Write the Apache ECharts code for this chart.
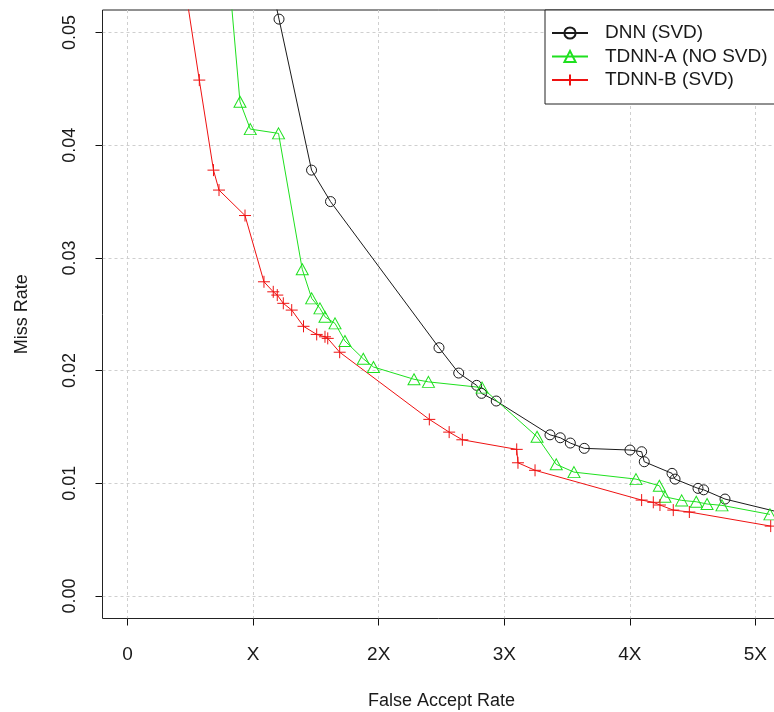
<!DOCTYPE html>
<html><head><meta charset="utf-8">
<script src="https://cdn.jsdelivr.net/npm/echarts@6/dist/echarts.min.js"></script>
<style>html,body{margin:0;padding:0;background:#fff}#c{width:774px;height:712px}</style>
</head><body><div id="c"></div>
<script>
// ---- data ----
const xTickValues = [0, 1, 2, 3, 4, 5];
const xTickLabels = ['0', 'X', '2X', '3X', '4X', '5X'];
const yTickValues = [0, 0.01, 0.02, 0.03, 0.04, 0.05];
const seriesNames = ['DNN (SVD)', 'TDNN-A (NO SVD)', 'TDNN-B (SVD)'];

const dnnX = [1.122, 1.206, 1.465, 1.616, 2.480, 2.637, 2.780, 2.819, 2.936, 3.364, 3.446, 3.526, 3.637, 4.001, 4.094, 4.115, 4.336, 4.360, 4.543, 4.588, 4.758, 5.300];
const dnnY = [0.0555, 0.05119, 0.03779, 0.0350, 0.02203, 0.01978, 0.01869, 0.01798, 0.01730, 0.01430, 0.01404, 0.01357, 0.01310, 0.01295, 0.01280, 0.01191, 0.01088, 0.01037, 0.00955, 0.00942, 0.00860, 0.00713];

const tdnnAX = [0.804, 0.895, 0.977, 1.202, 1.391, 1.466, 1.532, 1.572, 1.652, 1.731, 1.877, 1.958, 2.281, 2.396, 2.823, 3.261, 3.414, 3.555, 4.049, 4.235, 4.280, 4.413, 4.529, 4.615, 4.734, 5.116];
const tdnnAY = [0.0555, 0.04385, 0.04143, 0.04105, 0.02899, 0.02641, 0.02552, 0.02477, 0.02419, 0.02263, 0.02105, 0.02032, 0.01923, 0.01900, 0.01849, 0.01413, 0.01168, 0.01099, 0.01037, 0.00978, 0.00880, 0.00848, 0.00836, 0.00816, 0.00804, 0.00724];

const tdnnBX = [0.438, 0.571, 0.684, 0.728, 0.935, 1.086, 1.160, 1.192, 1.240, 1.307, 1.401, 1.506, 1.572, 1.594, 1.689, 2.403, 2.561, 2.666, 3.099, 3.109, 3.245, 4.094, 4.187, 4.240, 4.346, 4.474, 5.122];
const tdnnBY = [0.0555, 0.04578, 0.03779, 0.03602, 0.03376, 0.02788, 0.02699, 0.02670, 0.02597, 0.02537, 0.02393, 0.02321, 0.02300, 0.02286, 0.02163, 0.01567, 0.01454, 0.01386, 0.01301, 0.01182, 0.01115, 0.00851, 0.00831, 0.00807, 0.00762, 0.00745, 0.00620];

// ---- layout ----
const FONT = '"Liberation Sans", Arial, sans-serif';
const TXT = '#1a1a1a';
const XMIN = -0.2, XMAX = 5.2, YMIN = -0.002, YMAX = 0.052;
const BOX = {left: 102.5, top: 10, width: 678, height: 608.5};
const zip = (xs, ys) => xs.map((x, i) => [x, ys[i]]);
const near = (arr, v, eps) => arr.findIndex(t => Math.abs(t - v) < eps);

const chart = echarts.init(document.getElementById('c'), null, {renderer: 'canvas'});
const splitStyle = {show: true, showMinLine: false, showMaxLine: false, lineStyle: {color: '#cfcfcf', type: [3, 3], width: 1}};
const tickStyle = {show: true, inside: false, length: 7, lineStyle: {color: '#111', width: 1}};
const noLine = {show: false, onZero: false};

const option = {
  animation: false,
  backgroundColor: '#fff',
  grid: [
    Object.assign({show: true, borderColor: '#222', borderWidth: 1, backgroundColor: 'transparent',
                   outerBoundsMode: 'none', containLabel: false}, BOX),
    Object.assign({show: false, outerBoundsMode: 'none', containLabel: false}, BOX)
  ],
  xAxis: [
    {gridIndex: 0, type: 'value', min: XMIN, max: XMAX, splitNumber: 5,
     axisLine: noLine, axisTick: {show: false}, axisLabel: {show: false}, splitLine: splitStyle},
    {gridIndex: 1, type: 'value', min: XMIN, max: XMAX, splitNumber: 5, position: 'bottom',
     axisLine: noLine, splitLine: {show: false},
     axisTick: Object.assign({customValues: xTickValues}, tickStyle),
     axisLabel: {customValues: xTickValues, margin: 27, fontSize: 19, fontFamily: FONT, color: TXT,
                 showMinLabel: true, showMaxLabel: true,
                 formatter: v => { const k = near(xTickValues, v, 1e-6); return k >= 0 ? xTickLabels[k] : ''; }},
     name: 'False Accept Rate', nameLocation: 'middle', nameGap: 74,
     nameTextStyle: {fontSize: 18, fontFamily: FONT, color: TXT}}
  ],
  yAxis: [
    {gridIndex: 0, type: 'value', min: YMIN, max: YMAX, splitNumber: 5,
     axisLine: noLine, axisTick: {show: false}, axisLabel: {show: false}, splitLine: splitStyle},
    {gridIndex: 1, type: 'value', min: YMIN, max: YMAX, splitNumber: 5, position: 'left',
     axisLine: noLine, splitLine: {show: false},
     axisTick: Object.assign({customValues: yTickValues}, tickStyle),
     axisLabel: {customValues: yTickValues, margin: 23, rotate: 90, fontSize: 18, fontFamily: FONT, color: TXT,
                 showMinLabel: true, showMaxLabel: true,
                 formatter: v => { const k = near(yTickValues, v, 1e-9); return k >= 0 ? yTickValues[k].toFixed(2) : ''; }},
     name: 'Miss Rate', nameLocation: 'middle', nameGap: 71, nameRotate: 90,
     nameTextStyle: {fontSize: 18, fontFamily: FONT, color: TXT}}
  ],
  legend: {
    orient: 'vertical', left: 545, top: 10, padding: [13, 40, 14, 6],
    itemGap: 3.5, itemWidth: 36, itemHeight: 14,
    borderColor: '#222', borderWidth: 1, borderRadius: 0, backgroundColor: '#fff',
    selectedMode: false, z: 10,
    textStyle: {fontSize: 19, fontFamily: FONT, color: TXT, padding: [0, 0, 0, 12], lineHeight: 20},
    data: seriesNames
  },
  series: [
    {type: 'line', name: seriesNames[0], xAxisIndex: 0, yAxisIndex: 0, data: zip(dnnX, dnnY),
     symbol: 'circle', symbolSize: 10, clip: true, z: 3, emphasis: {disabled: true},
     lineStyle: {color: '#1a1a1a', width: 1},
     itemStyle: {color: 'rgba(0,0,0,0)', borderColor: '#1a1a1a', borderWidth: 1}},
    {type: 'line', name: seriesNames[1], xAxisIndex: 0, yAxisIndex: 0, data: zip(tdnnAX, tdnnAY),
     symbol: 'triangle', symbolSize: [12, 11], clip: true, z: 3, emphasis: {disabled: true},
     lineStyle: {color: '#1fe01f', width: 1},
     itemStyle: {color: 'rgba(0,0,0,0)', borderColor: '#1fe01f', borderWidth: 1}},
    {type: 'line', name: seriesNames[2], xAxisIndex: 0, yAxisIndex: 0, data: zip(tdnnBX, tdnnBY),
     symbol: 'path://M0,6L12,6M6,0L6,12', symbolSize: 12, clip: true, z: 3, emphasis: {disabled: true},
     lineStyle: {color: '#ee1111', width: 1},
     itemStyle: {color: '#ee1111', borderColor: '#ee1111', borderWidth: 1}}
  ]
};
chart.setOption(option);
</script>
</body></html>
